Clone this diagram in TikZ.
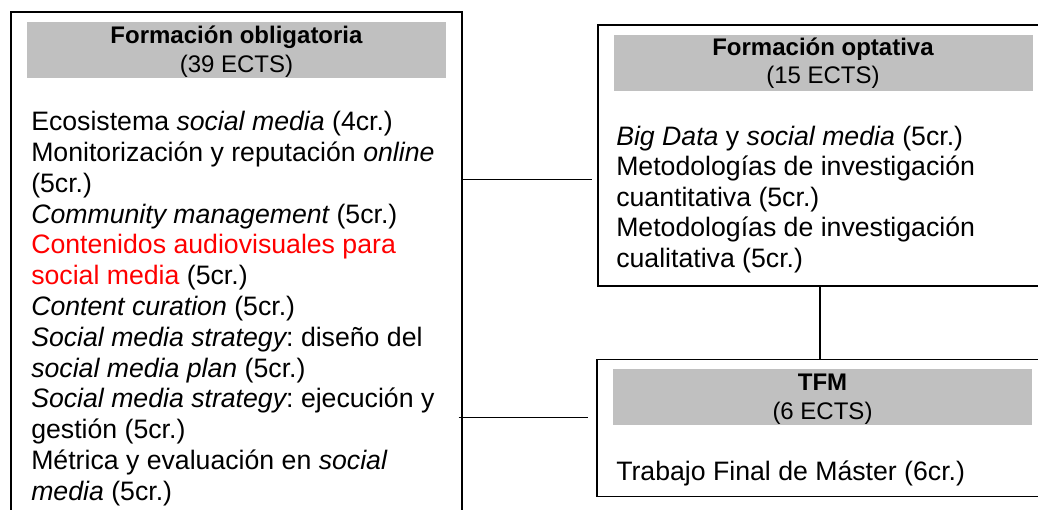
\documentclass[tikz,border=0pt]{standalone}
\usepackage{fontspec}
\setmainfont{Liberation Sans}
\usetikzlibrary{calc}
\frenchspacing
\definecolor{hdgray}{RGB}{192,192,192}
\definecolor{hdred}{RGB}{255,0,0}
\newcommand\txtlines[2]{\vtop{\baselineskip=#1\relax\lineskiplimit=-100pt\relax\lineskip=0pt\relax #2}}
\newcommand\ital[1]{{\itshape #1}}
\begin{document}
\frenchspacing
\begin{tikzpicture}[x=0.75pt,y=-0.75pt,
  box/.style={draw=black,line width=1.3pt,rectangle,inner sep=0pt,anchor=north west},
  head/.style={fill=hdgray,rectangle,inner sep=0pt,anchor=north west},
  conn/.style={draw=black,line width=1.1pt},
  htitle/.style={anchor=base,inner sep=0pt,font=\fontsize{18pt}{21pt}\selectfont\bfseries},
  hsub/.style={anchor=base,inner sep=0pt,font=\fontsize{18pt}{21pt}\selectfont},
  body/.style={anchor=base west,inner sep=0pt,font=\fontsize{20pt}{23.1pt}\selectfont\frenchspacing}]
\clip (0,0) rectangle (1038,510);
\useasboundingbox (0,0) rectangle (1038,510);
% boxes
\node[box,minimum width=451*0.75pt,minimum height=509*0.75pt] (obl) at (10,11) {};
\node[box,minimum width=453*0.75pt,minimum height=261*0.75pt] (opt) at (597,24) {};
\node[box,minimum width=454*0.75pt,minimum height=137*0.75pt] (tfm) at (596,358.5) {};
% gray headers
\node[head,minimum width=419*0.75pt,minimum height=56*0.75pt] (oblh) at (27,22) {};
\node[head,minimum width=419*0.75pt,minimum height=55.7*0.75pt] (opth) at (613.5,35) {};
\node[head,minimum width=419*0.75pt,minimum height=55.3*0.75pt] (tfmh) at (613,369) {};
% header texts
\node[htitle] (oblt) at (236.5,44) {Formación obligatoria};
\node[hsub] (obls) at (236.5,72.3) {(39 ECTS)};
\node[htitle] (optt) at (823,56) {Formación optativa};
\node[hsub] (opts) at (823,84) {(15 ECTS)};
\node[htitle] (tfmt) at (822.5,390.7) {TFM};
\node[hsub] (tfms) at (822.5,419.3) {(6 ECTS)};
% body texts
\node[body] (oblb) at (31,130.7) {\txtlines{23.1pt}{%
\hbox{Ecosistema \ital{social media} (4cr.)}%
\hbox{Monitorización y reputación \ital{online}}%
\hbox{(5cr.)}%
\hbox{\ital{Community management} (5cr.)}%
\hbox{\textcolor{hdred}{Contenidos audiovisuales para}}%
\hbox{\textcolor{hdred}{social media} (5cr.)}%
\hbox{\ital{Content curation} (5cr.)}%
\hbox{\ital{Social media strategy}: diseño del}%
\hbox{\ital{social media plan} (5cr.)}%
\hbox{\ital{Social media strategy}: ejecución y}%
\hbox{gestión (5cr.)}%
\hbox{Métrica y evaluación en \ital{social}}%
\hbox{\ital{media} (5cr.)}}};
\node[body] (optb) at (616,145) {\txtlines{22.9pt}{%
\hbox{\ital{Big Data} y \ital{social media} (5cr.)}%
\hbox{Metodologías de investigación}%
\hbox{cuantitativa (5cr.)}%
\hbox{Metodologías de investigación}%
\hbox{cualitativa (5cr.)}}};
\node[body] (tfmb) at (616,480) {Trabajo Final de Máster (6cr.)};
% connectors
\coordinate (y1) at (0,179.3);
\coordinate (y2) at (0,417.3);
\coordinate (xv) at (820,0);
\draw[conn] (obl.east |- y1) -- ($(opt.west |- y1)+(-5,0)$);
\draw[conn] ($(obl.east |- y2)+(-4,0)$) -- ($(tfm.west |- y2)+(-8,0)$);
\draw[conn] (opt.south -| xv) -- (tfm.north -| xv);
\end{tikzpicture}
\end{document}
